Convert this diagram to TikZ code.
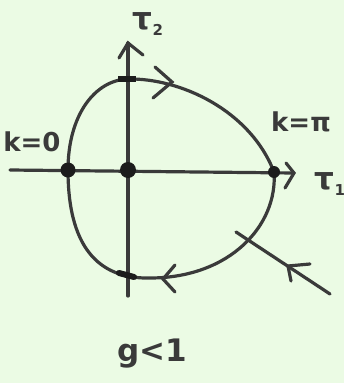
\documentclass[tikz,border=0pt]{standalone}
\usepackage{fontspec}
\setmainfont{DejaVu Sans}
\definecolor{paper}{HTML}{EBFBE4}
\definecolor{ink}{HTML}{3A3A3A}
\definecolor{dotink}{HTML}{1C1C1C}
\tikzset{
  pen/.style={draw=ink, line width=3.2pt, line cap=round, line join=round},
  chev/.style={draw=ink, line width=3.2pt, line cap=round, line join=miter},
  dotnode/.style={circle, fill=dotink, inner sep=0pt, minimum size=#1},
  lbl/.style={text=ink, font=\bfseries\fontsize{26}{30}\selectfont, inner sep=0pt},
  biglbl/.style={text=ink, font=\bfseries\fontsize{31}{34}\selectfont, inner sep=0pt}
}
\newcommand{\tausub}[1]{τ\raisebox{-0.3ex}{\fontsize{15}{15}\selectfont #1}}
\begin{document}
\begin{tikzpicture}[x=1pt,y=-1pt]
\fill[paper] (0,0) rectangle (344,383);
\useasboundingbox (0,0) rectangle (344,383);
% axes
\coordinate (hl) at (10,170);
\coordinate (hr) at (294,173);
\coordinate (vb) at (128,296);
\coordinate (vt) at (128,43);
\draw[pen] (hl) -- (hr);
\draw[pen] (vb) -- (vt);
\draw[chev] (286,163) -- (hr) -- (285,188);
\draw[chev] (119,58) -- (vt) -- (143,55);
% closed curve
\draw[pen] (68,170) .. controls (68,115) and (95,80) .. (128,79)
  .. controls (180,78) and (250,110) .. (274,172)
  .. controls (278,225) and (230,278) .. (150,278)
  .. controls (105,279) and (68,255) .. cycle;
% curve arrows
\draw[chev] (155,67) -- (172,82) -- (153,98);
\draw[chev] (175,265) -- (163,279) -- (175,292);
% ticks
\draw[dotink, line width=6pt] (118,79) -- (136,79);
\draw[dotink, line width=6pt, line cap=round] (119,273) -- (134,277);
% diagonal line with arrow
\coordinate (da) at (236,232);
\coordinate (db) at (330,294);
\draw[pen] (da) -- (db);
\draw[chev] (310,264) -- (288,266) -- (291,281);
% dots
\node[dotnode=15pt] (p0) at (68,170) {};
\node[dotnode=16pt] (pc) at (128,170) {};
\node[dotnode=12pt] (ppi) at (274,172) {};
% labels
\node[lbl, anchor=center] (k0) at (32,142) {k=0};
\node[lbl, anchor=center] (kpi) at (301,122) {k=π};
\node[biglbl, anchor=center] (t1) at (330,184) {\tausub{1}};
\node[biglbl, anchor=center] (t2) at (148,24) {\tausub{2}};
\node[biglbl, anchor=center] (g) at (152,354) {g<1};
\end{tikzpicture}
\end{document}
